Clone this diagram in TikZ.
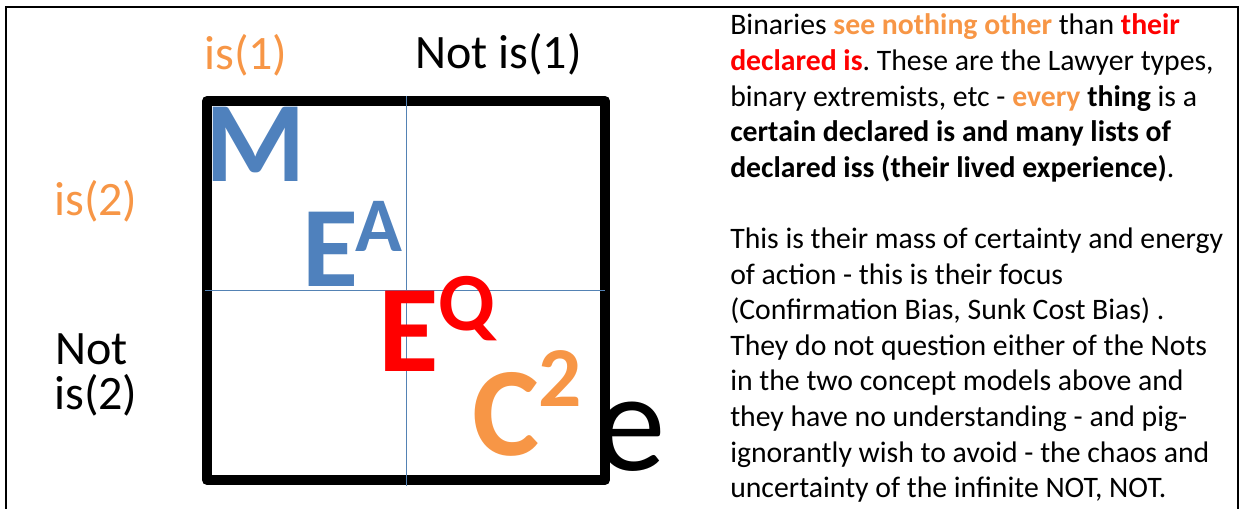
\documentclass[tikz,border=0pt]{standalone}
\usepackage{fontspec}
\setmainfont{Carlito}
\usetikzlibrary{positioning}
\definecolor{msblue}{RGB}{79,129,189}
\definecolor{msorange}{RGB}{247,150,70}
\definecolor{msred}{RGB}{255,0,0}
\definecolor{gridblue}{RGB}{84,130,180}
\newcommand{\orb}[1]{\textbf{\color{msorange}#1}}
\newcommand{\reb}[1]{\textbf{\color{msred}#1}}
\frenchspacing

\tikzset{
  lbl/.style={anchor=base west, inner sep=0pt, font=\fontsize{36}{40}\selectfont},
  bigletter/.style={anchor=base west, inner sep=0pt, font=\fontsize{86}{90}\selectfont\bfseries},
  supletter/.style={anchor=base west, inner sep=0pt, font=\fontsize{58}{60}\selectfont\bfseries},
  para/.style={anchor=base west, inner sep=0pt, font=\fontsize{22.3}{26}\selectfont},
  frame/.style={line width=7.5pt, line join=round},
  gridline/.style={gridblue, line width=0.75pt},
  rule/.style={line width=1.2pt}
}

\begin{document}
\begin{tikzpicture}[x=0.75pt, y=-0.75pt]
  \useasboundingbox (0,0) rectangle (1240,509);
  % table rules
  \draw[rule] (6,509) -- (6,7) -- (1238,7) -- (1238,509);
  % axis labels
  \node[lbl, msorange] (is1) at (204,70) {is(1)};
  \node[lbl] (notis1) at (415,69) {Not is(1)};
  \node[lbl, msorange] (is2) at (54,216) {is(2)};
  \node[lbl] (not2) at (55,365) {Not};
  \node[lbl] (notis2) at (54,410) {is(2)};
  % square and quadrants
  \coordinate (tl) at (207,101);
  \coordinate (br) at (605,480);
  \draw[frame] (tl) rectangle (br);
  \draw[gridline] (406,96) -- (406,486);
  \draw[gridline] (205,291) -- (605,291);
  % letters
  \node[bigletter, msblue] (m) at (205,182) {M};
  \node[bigletter, msblue] (ea) at (302,287) {E};
  \node[supletter, msblue] (a) at (355,252) {A};
  \node[bigletter, msred, font=\fontsize{93}{95}\selectfont\bfseries] (eq) at (378,372) {E};
  \node[supletter, msred, font=\fontsize{62}{64}\selectfont\bfseries] (q) at (438,331) {Q};
  \node[bigletter, msorange, font=\fontsize{95}{98}\selectfont\bfseries] (c) at (472,456) {C};
  \node[supletter, msorange, font=\fontsize{64}{66}\selectfont\bfseries] (two) at (538,407) {2};
  \node[anchor=base west, inner sep=0pt, font=\fontsize{106}{110}\selectfont] (e) at (595,471) {e};
  % text column
  \node[para] (t1) at (730,35) {Binaries \orb{see nothing other} than \reb{their}};
  \node[para] (t2) at (730,70.6) {\reb{declared is}. These are the Lawyer types,};
  \node[para] (t3) at (730,106.2) {binary extremists, etc - \orb{every} \textbf{thing} is a};
  \node[para] (t4) at (730,141.8) {\textbf{certain declared is and many lists of}};
  \node[para] (t5) at (730,177.4) {\textbf{declared iss (their lived experience)}.};
  \node[para] (t7) at (730,248.6) {This is their mass of certainty and energy};
  \node[para] (t8) at (730,284.2) {of action - this is their focus};
  \node[para] (t9) at (730,319.8) {(Confirmation Bias, Sunk Cost Bias) .};
  \node[para] (t10) at (730,355.4) {They do not question either of the Nots};
  \node[para] (t11) at (730,391) {in the two concept models above and};
  \node[para] (t12) at (730,426.6) {they have no understanding - and pig-};
  \node[para] (t13) at (730,462.2) {ignorantly wish to avoid - the chaos and};
  \node[para] (t14) at (730,497.8) {uncertainty of the infinite NOT, NOT.};
\end{tikzpicture}
\end{document}
